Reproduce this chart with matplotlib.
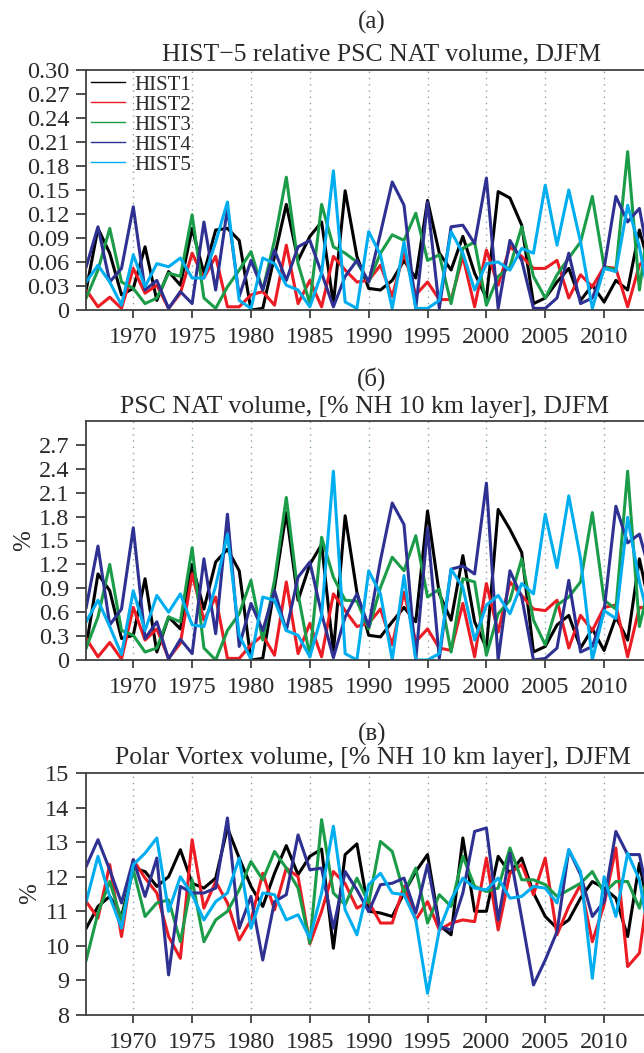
import numpy as np
import matplotlib
matplotlib.use("Agg")
import matplotlib.pyplot as plt
from matplotlib.lines import Line2D

plt.rcParams['font.family'] = ['Liberation Serif', 'DejaVu Serif']

years = np.arange(1966, 2015)
names = ["HIST1", "HIST2", "HIST3", "HIST4", "HIST5"]
colors = ["black", "#ec1c24", "#1a9c48", "#2e3192", "#00aeef"]

# (a) relative PSC NAT volume
hist1_rel = [0.025, 0.102, 0.071, 0.019, 0.027, 0.079, 0.012, 0.048, 0.031, 0.102,
             0.046, 0.100, 0.102, 0.087, 0.000, 0.002, 0.067, 0.132, 0.062, 0.092,
             0.110, 0.008, 0.149, 0.067, 0.027, 0.025, 0.037, 0.062, 0.040, 0.137,
             0.071, 0.050, 0.092, 0.046, 0.015, 0.148, 0.140, 0.106, 0.008, 0.015,
             0.035, 0.052, 0.012, 0.031, 0.010, 0.037, 0.025, 0.100, 0.046]
hist2_rel = [0.025, 0.004, 0.016, 0.002, 0.052, 0.021, 0.031, 0.002, 0.021, 0.071,
             0.040, 0.067, 0.004, 0.004, 0.019, 0.023, 0.006, 0.081, 0.008, 0.037,
             0.004, 0.067, 0.050, 0.035, 0.037, 0.056, 0.017, 0.072, 0.019, 0.035,
             0.013, 0.013, 0.067, 0.004, 0.075, 0.031, 0.079, 0.067, 0.052, 0.052,
             0.062, 0.015, 0.044, 0.029, 0.054, 0.052, 0.004, 0.056, 0.072]
hist3_rel = [0.015, 0.050, 0.102, 0.035, 0.027, 0.008, 0.015, 0.046, 0.042, 0.119,
             0.015, 0.002, 0.029, 0.050, 0.073, 0.025, 0.087, 0.166, 0.058, 0.008,
             0.132, 0.079, 0.071, 0.060, 0.035, 0.071, 0.094, 0.087, 0.121, 0.062,
             0.069, 0.008, 0.077, 0.085, 0.006, 0.042, 0.054, 0.104, 0.042, 0.015,
             0.044, 0.065, 0.085, 0.142, 0.054, 0.050, 0.198, 0.025, 0.133]
hist4_rel = [0.054, 0.104, 0.035, 0.052, 0.129, 0.025, 0.037, 0.002, 0.023, 0.008,
             0.110, 0.025, 0.127, 0.017, 0.062, 0.025, 0.075, 0.037, 0.079, 0.087,
             0.046, 0.004, 0.042, 0.062, 0.035, 0.096, 0.160, 0.131, 0.002, 0.135,
             0.002, 0.104, 0.106, 0.083, 0.165, 0.002, 0.087, 0.062, 0.002, 0.002,
             0.015, 0.071, 0.008, 0.015, 0.052, 0.142, 0.110, 0.127, 0.048]
hist5_rel = [0.035, 0.056, 0.035, 0.006, 0.069, 0.029, 0.058, 0.054, 0.065, 0.040,
             0.040, 0.085, 0.135, 0.012, 0.002, 0.065, 0.058, 0.031, 0.025, 0.004,
             0.046, 0.174, 0.010, 0.002, 0.098, 0.069, 0.002, 0.085, 0.002, 0.002,
             0.012, 0.098, 0.071, 0.025, 0.058, 0.060, 0.050, 0.077, 0.071, 0.156,
             0.081, 0.150, 0.085, 0.002, 0.052, 0.048, 0.131, 0.079, 0.000]

# (b) PSC NAT volume, % of NH 10 km layer
hist1_psc = [0.17, 1.08, 0.87, 0.27, 0.31, 1.02, 0.10, 0.54, 0.39, 1.20,
             0.64, 1.23, 1.39, 1.12, 0.00, 0.02, 0.91, 1.85, 0.75, 1.20,
             1.45, 0.10, 1.81, 0.85, 0.31, 0.29, 0.48, 0.66, 0.48, 1.87,
             0.83, 0.50, 1.31, 0.48, 0.15, 1.89, 1.64, 1.35, 0.10, 0.17,
             0.44, 0.56, 0.15, 0.39, 0.12, 0.54, 0.25, 1.27, 0.58]
hist2_psc = [0.27, 0.04, 0.22, 0.01, 0.66, 0.25, 0.39, 0.02, 0.21, 1.08,
             0.50, 0.79, 0.02, 0.02, 0.19, 0.31, 0.06, 0.98, 0.08, 0.46,
             0.04, 0.83, 0.62, 0.42, 0.46, 0.64, 0.19, 0.85, 0.23, 0.39,
             0.15, 0.12, 0.71, 0.04, 0.96, 0.35, 0.98, 0.81, 0.64, 0.62,
             0.75, 0.15, 0.56, 0.37, 0.66, 0.69, 0.04, 0.66, 0.66]
hist3_psc = [0.15, 0.54, 1.20, 0.37, 0.31, 0.10, 0.15, 0.54, 0.48, 1.41,
             0.15, 0.00, 0.37, 0.58, 1.00, 0.25, 1.00, 2.04, 0.83, 0.04,
             1.54, 1.04, 0.75, 0.74, 0.39, 0.91, 1.29, 1.12, 1.56, 0.79,
             0.89, 0.10, 1.02, 0.98, 0.06, 0.58, 0.75, 1.27, 0.50, 0.19,
             0.69, 0.79, 0.98, 1.85, 0.75, 0.64, 2.37, 0.42, 1.04]
hist4_psc = [0.66, 1.43, 0.44, 0.64, 1.66, 0.27, 0.48, 0.01, 0.26, 0.08,
             1.27, 0.33, 1.83, 0.17, 0.71, 0.37, 0.87, 0.37, 1.04, 1.23,
             0.58, 0.03, 0.54, 0.83, 0.42, 1.25, 1.97, 1.70, 0.00, 1.66,
             0.02, 1.14, 1.18, 1.08, 2.22, 0.00, 1.12, 0.79, 0.00, 0.02,
             0.15, 1.00, 0.10, 0.17, 0.62, 1.93, 1.47, 1.58, 1.04]
hist5_psc = [0.48, 0.75, 0.42, 0.07, 0.87, 0.37, 0.81, 0.60, 0.83, 0.44,
             0.42, 0.93, 1.58, 0.31, 0.01, 0.79, 0.75, 0.37, 0.31, 0.04,
             0.56, 2.37, 0.08, 0.00, 1.12, 0.83, 0.00, 1.06, 0.00, 0.00,
             0.08, 1.14, 0.91, 0.25, 0.69, 0.81, 0.58, 0.96, 0.83, 1.83,
             1.16, 2.06, 1.27, 0.00, 0.62, 0.52, 1.79, 0.98, 0.39]

# (c) polar vortex volume, % of NH 10 km layer
hist1_pv = [10.51, 11.14, 11.43, 10.85, 12.25, 12.15, 11.72, 12.00, 12.78, 11.81,
            11.67, 11.96, 13.41, 12.54, 11.72, 11.14, 12.10, 12.90, 12.06, 12.59,
            12.80, 9.93, 12.64, 12.95, 11.00, 10.95, 10.85, 11.53, 12.15, 12.64,
            10.60, 10.32, 13.12, 11.00, 11.00, 12.59, 12.10, 12.54, 11.53, 10.85,
            10.51, 10.75, 11.38, 11.86, 11.67, 11.38, 10.27, 12.39, 10.67]
hist2_pv = [11.28, 10.80, 12.35, 10.27, 12.49, 11.96, 11.53, 10.27, 9.64, 13.07,
            11.09, 11.86, 11.24, 10.17, 10.75, 12.10, 11.04, 12.25, 12.00, 10.06,
            11.00, 12.15, 11.80, 11.09, 11.28, 10.66, 10.66, 11.72, 10.75, 11.28,
            10.46, 10.66, 10.75, 10.70, 12.54, 10.46, 12.10, 12.35, 11.48, 12.54,
            10.32, 11.14, 11.77, 10.12, 11.19, 12.83, 9.40, 9.79, 12.25]
hist3_pv = [9.59, 10.95, 11.86, 10.75, 12.20, 10.85, 11.24, 11.33, 10.12, 11.91,
            10.12, 10.75, 11.00, 11.62, 12.44, 11.91, 12.73, 12.25, 11.67, 10.08,
            13.65, 11.53, 11.19, 11.96, 11.24, 13.02, 12.73, 11.53, 12.25, 10.66,
            11.48, 11.14, 12.59, 11.72, 11.57, 11.67, 12.83, 11.91, 11.91, 11.77,
            11.43, 11.62, 11.81, 12.15, 11.53, 11.86, 11.86, 11.09, 12.45]
hist4_pv = [12.30, 13.07, 12.20, 11.24, 12.49, 11.43, 12.54, 9.16, 11.72, 11.53,
            11.53, 11.67, 13.70, 10.51, 11.43, 9.59, 11.28, 11.48, 13.21, 12.20,
            12.25, 10.51, 12.15, 11.62, 10.99, 11.77, 11.81, 11.96, 10.95, 12.35,
            10.56, 10.46, 11.53, 13.31, 13.41, 10.75, 12.68, 10.80, 8.87, 9.59,
            10.41, 12.78, 12.06, 10.85, 11.28, 13.31, 12.64, 12.64, 11.00]
hist5_pv = [11.28, 12.59, 11.43, 10.51, 12.35, 12.68, 13.12, 11.00, 12.00, 11.48,
            10.75, 11.28, 11.53, 12.54, 10.51, 11.53, 11.48, 10.75, 10.90, 10.22,
            11.53, 13.46, 11.04, 10.32, 11.77, 12.10, 11.53, 11.48, 10.75, 8.63,
            10.46, 11.33, 11.96, 11.67, 11.62, 11.96, 11.38, 11.43, 11.72, 11.67,
            11.24, 12.78, 12.15, 9.06, 12.00, 10.85, 12.68, 11.91, 9.94]

rel_ticks = ["0", "0.03", "0.06", "0.09", "0.12", "0.15", "0.18", "0.21", "0.24", "0.27", "0.30"]
psc_ticks = ["0", "0.3", "0.6", "0.9", "1.2", "1.5", "1.8", "2.1", "2.4", "2.7"]
pv_ticks = ["8", "9", "10", "11", "12", "13", "14", "15"]
year_ticks = [1970, 1975, 1980, 1985, 1990, 1995, 2000, 2005, 2010]

W, H = 644, 1053
fig = plt.figure(figsize=(W / 100, H / 100), dpi=100)

left = 86.2 / W
width = 1 - left
txt_col = '#2a2a2a'


def make_axes(top_px, bot_px):
    ax = fig.add_axes([left, 1 - bot_px / H, width, (bot_px - top_px) / H])
    ax.set_xlim(1966, 2013.39)
    ax.set_xticks(year_ticks)
    ax.spines['right'].set_visible(False)
    for s in ['left', 'top', 'bottom']:
        ax.spines[s].set_color('#404040')
        ax.spines[s].set_linewidth(1.3)
    ax.tick_params(direction='out', length=6, width=1.3, color='#404040',
                   labelsize=17.5, pad=6, labelcolor=txt_col)
    ax.tick_params(axis='y', length=7, pad=5)
    ax.xaxis.grid(True, linestyle=(0, (1, 3.5)), color='#8aa2ae', linewidth=1.0)
    ax.set_axisbelow(True)
    return ax


panels = [
    (70, 310, [hist1_rel, hist2_rel, hist3_rel, hist4_rel, hist5_rel], (0, 0.30),
     [0.03 * i for i in range(11)], rel_ticks,
     "(a)", 29, "HIST\u22125 relative PSC NAT volume, DJFM", 60, 382, None),
    (421, 660, [hist1_psc, hist2_psc, hist3_psc, hist4_psc, hist5_psc], (0, 3.0),
     [0.3 * i for i in range(10)], psc_ticks,
     "(\u0431)", 386, "PSC NAT volume, [% NH 10 km layer], DJFM", 413, 364, "%"),
    (773, 1015, [hist1_pv, hist2_pv, hist3_pv, hist4_pv, hist5_pv], (8, 15),
     list(range(8, 16)), pv_ticks,
     "(\u0432)", 741, "Polar Vortex volume, [% NH 10 km layer], DJFM", 764, 373, "%"),
]

for top, bot, series, ylim, yt, ytl, tag, tag_y, title, title_y, title_x, ylab in panels:
    ax = make_axes(top, bot)
    for vals, c, n in zip(series, colors, names):
        ax.plot(years, vals, color=c, linewidth=2.2, label=n)
    ax.set_ylim(*ylim)
    ax.set_yticks(yt)
    ax.set_yticklabels(ytl)
    fig.text(372 / W, 1 - tag_y / H, tag, ha='center', va='baseline',
             fontsize=18, color=txt_col)
    fig.text(title_x / W, 1 - title_y / H, title, ha='center', va='baseline',
             fontsize=18.5, color=txt_col)
    if ylab:
        ax.set_ylabel(ylab, fontsize=18, labelpad=3, color=txt_col)
    if tag == "(a)":
        handles = [Line2D([], [], color=c, linewidth=1.0) for c in colors]
        ax.legend(handles, names, loc='upper left', frameon=False, fontsize=15,
                  handlelength=1.6, handletextpad=0.45, labelspacing=0.02,
                  borderaxespad=0.0, borderpad=0.25, bbox_to_anchor=(0.0, 1.0),
                  labelcolor=txt_col)

fig.savefig("out.png", dpi=100)
